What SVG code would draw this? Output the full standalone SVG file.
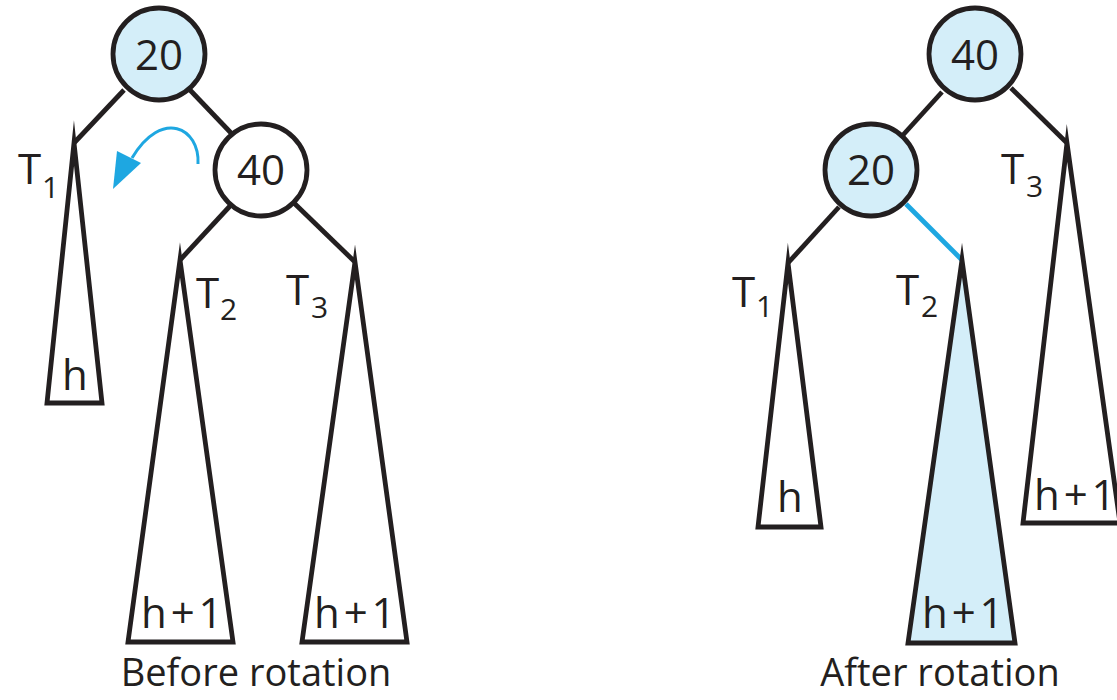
<svg xmlns="http://www.w3.org/2000/svg" width="1117" height="700" viewBox="0 0 1117 700">
<defs>
<style>
text{font-family:"Open Sans","Noto Sans","Liberation Sans",sans-serif;fill:#231f20;}
.lbl{font-size:42px;}
.sub{font-size:30px;}
.num{font-size:42px;text-anchor:middle;}
.cap{font-size:38px;text-anchor:middle;}
.hh{font-size:42px;word-spacing:-7px;}
.node{stroke:#231f20;stroke-width:4.8;}
.tri{stroke:#231f20;stroke-width:4.8;stroke-linejoin:miter;stroke-miterlimit:20;fill:#fff;}
.edge{stroke:#231f20;stroke-width:4.8;fill:none;}
</style>
</defs>
<rect width="1117" height="700" fill="#fff"/>
<g id="connectors">
<line class="edge" x1="124" y1="90" x2="74" y2="143"/>
<line class="edge" x1="190" y1="90" x2="232" y2="134"/>
<line class="edge" x1="230" y1="206" x2="180" y2="260"/>
<line class="edge" x1="294" y1="203" x2="355" y2="262"/>
<line class="edge" x1="942" y1="92" x2="903" y2="135"/>
<line class="edge" x1="1011" y1="88" x2="1067" y2="143"/>
<line class="edge" x1="839" y1="207" x2="788" y2="263"/>
<line x1="906" y1="204" x2="962" y2="260" stroke="#1ea7e1" stroke-width="4.8"/>
<path d="M198,164 C200,128 162,108 132,158" fill="none" stroke="#1ea7e1" stroke-width="3"/>
<path d="M113,189 L117,151 L141,163 z" fill="#1ea7e1"/>
</g>
<g id="before-20"><circle class="node" cx="159" cy="54" r="46" fill="#d4eef9"/><text class="num" x="159" y="70">20</text></g>
<g id="before-40"><circle class="node" cx="261" cy="170" r="46" fill="#fff"/><text class="num" x="261" y="185">40</text></g>
<g id="before-T1"><polygon class="tri" points="74,143 102,403 47,403"/><text class="lbl" x="18" y="184">T</text><text class="sub" x="42" y="198">1</text><text class="lbl" x="62" y="390">h</text></g>
<g id="before-T2"><polygon class="tri" points="180,260 233,642 128,642"/><text class="lbl" x="196" y="308">T</text><text class="sub" x="220" y="320">2</text><text class="hh" x="141" y="628">h + 1</text></g>
<g id="before-T3"><polygon class="tri" points="355,262 407,642 302,642"/><text class="lbl" x="286" y="305">T</text><text class="sub" x="311" y="318">3</text><text class="hh" x="314" y="628">h + 1</text></g>
<g id="after-40"><circle class="node" cx="975" cy="54" r="46" fill="#d4eef9"/><text class="num" x="975" y="70">40</text></g>
<g id="after-20"><circle class="node" cx="871" cy="170" r="46" fill="#d4eef9"/><text class="num" x="871" y="185">20</text></g>
<g id="after-T1"><polygon class="tri" points="788,263 821,527 758,527"/><text class="lbl" x="732" y="307">T</text><text class="sub" x="756" y="317">1</text><text class="lbl" x="777" y="512">h</text></g>
<g id="after-T2"><polygon class="tri" points="962,260 1015,643 908,643" style="fill:#d4eef9"/><text class="lbl" x="896" y="305">T</text><text class="sub" x="921" y="317">2</text><text class="hh" x="922" y="628">h + 1</text></g>
<g id="after-T3"><polygon class="tri" points="1067,143 1120,523 1023,523"/><text class="lbl" x="1001" y="184">T</text><text class="sub" x="1026" y="197">3</text><text class="hh" x="1034" y="510">h + 1</text></g>
<text class="cap" x="256" y="686">Before rotation</text>
<text class="cap" x="940" y="686">After rotation</text>
</svg>
